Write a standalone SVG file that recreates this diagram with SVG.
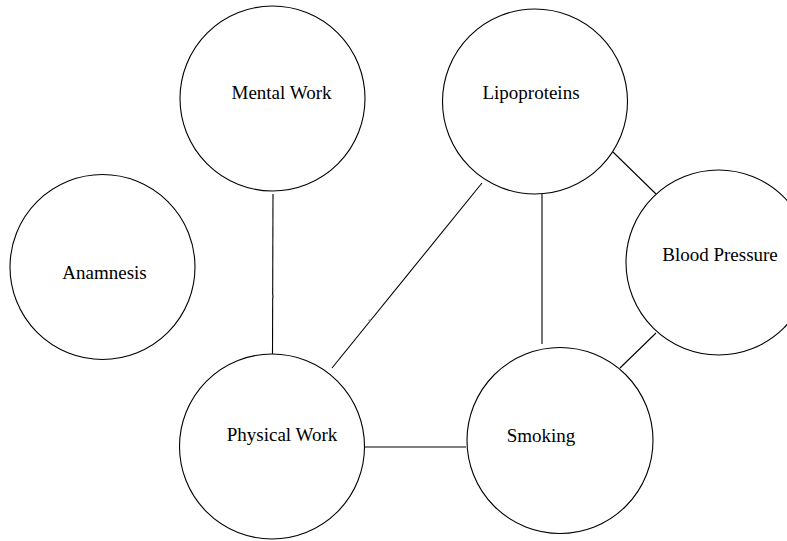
<svg xmlns="http://www.w3.org/2000/svg" width="787" height="541" viewBox="0 0 787 541">
<style>
.node circle{fill:#fff;stroke:#000;stroke-width:1.1}
.node text{font-family:"Liberation Serif","Times New Roman",serif;font-size:19px;fill:#000;text-anchor:middle}
.edges line{stroke:#000;stroke-width:1.1}
.tick{fill:#888}
</style>
<rect width="787" height="541" fill="#fff"/>
<g class="edges" id="connectors">
<line x1="273" y1="194" x2="272.5" y2="354"/>
<line x1="482" y1="183" x2="332" y2="368"/>
<line x1="542" y1="194" x2="542" y2="344"/>
<line x1="613" y1="152" x2="656" y2="194"/>
<line x1="656" y1="333" x2="620" y2="368"/>
<line x1="364" y1="447" x2="466" y2="447"/>
<rect class="tick" x="272.5" y="295" width="1.5" height="3"/>
<polygon class="tick" points="368,320 371,319 370,322"/>
</g>
<g class="node" id="mental-work"><circle cx="272.5" cy="98.5" r="92.5"/><text x="281.5" y="99">Mental Work</text></g>
<g class="node" id="lipoproteins"><circle cx="535" cy="101.5" r="92.5"/><text x="531" y="99">Lipoproteins</text></g>
<g class="node" id="blood-pressure"><circle cx="718.5" cy="262.5" r="92.5"/><text x="720" y="261">Blood Pressure</text></g>
<g class="node" id="anamnesis"><circle cx="102.5" cy="267" r="92.5"/><text x="104.5" y="279">Anamnesis</text></g>
<g class="node" id="physical-work"><circle cx="272" cy="446.5" r="92.5"/><text x="282" y="441">Physical Work</text></g>
<g class="node" id="smoking"><circle cx="560" cy="440.5" r="93"/><text x="541" y="442">Smoking</text></g>
</svg>
